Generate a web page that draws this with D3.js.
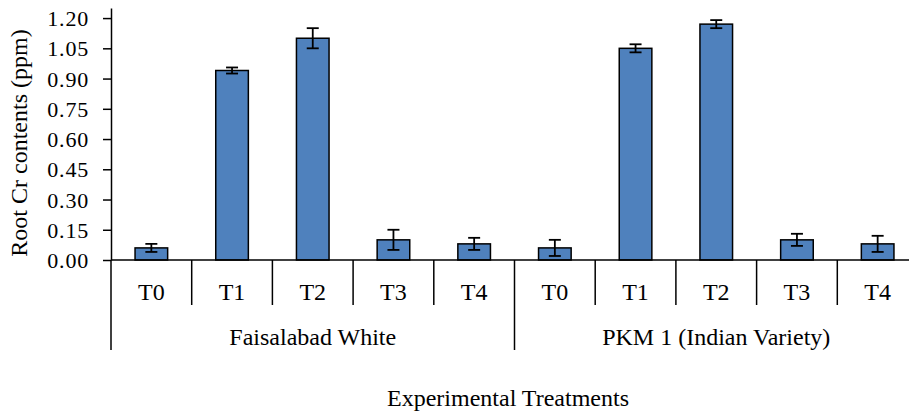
<!DOCTYPE html>
<html>
<head>
<meta charset="utf-8">
<script src="https://cdn.jsdelivr.net/npm/d3@7"></script>
<style>
  html, body { margin: 0; padding: 0; background: #fff; }
  svg { display: block; }
  text { font-family: "Liberation Serif", "Times New Roman", serif; fill: #000; }
</style>
</head>
<body>
<svg id="chart" width="909" height="416"></svg>
<script>
// root Cr (ppm) per variety and treatment
const varieties = ['Faisalabad White', 'PKM 1 (Indian Variety)'];
const treatments = ['T0', 'T1', 'T2', 'T3', 'T4'];
const fwMeans = [0.06, 0.94, 1.10, 0.10, 0.08];
const fwErrors = [0.02, 0.015, 0.05, 0.05, 0.03];
const pkmMeans = [0.06, 1.05, 1.17, 0.10, 0.08];
const pkmErrors = [0.04, 0.02, 0.02, 0.03, 0.04];
const yTickValues = [0, 0.15, 0.30, 0.45, 0.60, 0.75, 0.90, 1.05, 1.20];

const rows = [];
varieties.forEach((v, gi) => {
  const means = gi === 0 ? fwMeans : pkmMeans;
  const errs = gi === 0 ? fwErrors : pkmErrors;
  treatments.forEach((t, ti) => {
    rows.push({ key: `${gi}-${t}`, variety: v, treatment: t, mean: means[ti], err: errs[ti] });
  });
});

const svg = d3.select('#chart');
const plotLeft = 111, plotRight = 918, plotTop = 8, zeroY = 260;

const x = d3.scaleBand().domain(rows.map((d) => d.key)).range([plotLeft, plotRight]).padding(0);
const y = d3.scaleLinear().domain([0, 1.25]).range([zeroY, plotTop]);
const barW = x.bandwidth() * 0.404;

// bars
svg.append('g')
  .selectAll('rect')
  .data(rows)
  .join('rect')
  .attr('x', (d) => x(d.key) + (x.bandwidth() - barW) / 2)
  .attr('y', (d) => y(d.mean))
  .attr('width', barW)
  .attr('height', (d) => y(0) - y(d.mean))
  .attr('fill', '#4f81bd')
  .attr('stroke', '#000')
  .attr('stroke-width', 1.5);

// error bars
const eb = svg.append('g').attr('stroke', '#000').attr('stroke-width', 1.8);
const cx = (d) => x(d.key) + x.bandwidth() / 2;
eb.selectAll('line.v').data(rows).join('line').attr('class', 'v')
  .attr('x1', cx).attr('x2', cx)
  .attr('y1', (d) => y(d.mean + d.err)).attr('y2', (d) => y(d.mean - d.err));
[1, -1].forEach((s, k) => {
  eb.selectAll(`line.c${k}`).data(rows).join('line').attr('class', `c${k}`)
    .attr('x1', (d) => cx(d) - 6).attr('x2', (d) => cx(d) + 6)
    .attr('y1', (d) => y(d.mean + s * d.err)).attr('y2', (d) => y(d.mean + s * d.err));
});

// y axis
const yAxis = svg.append('g')
  .attr('transform', `translate(${plotLeft},0)`)
  .call(d3.axisLeft(y).tickValues(yTickValues).tickFormat(d3.format('.2f')).tickSize(8).tickSizeOuter(0));
yAxis.attr('font-family', null).attr('font-size', null);
yAxis.select('.domain').attr('stroke-width', 1.5);
yAxis.selectAll('.tick line').attr('stroke-width', 1.5);
yAxis.selectAll('.tick text')
  .attr('x', -22)
  .style('font-size', '22px')
  .style('letter-spacing', '0.8px')
  .attr('dy', '0.34em');

// x axis baseline
svg.append('line')
  .attr('x1', plotLeft).attr('x2', plotRight)
  .attr('y1', zeroY).attr('y2', zeroY)
  .attr('stroke', '#000').attr('stroke-width', 1.5);

// category separators: short between treatments, long at variety edges
const cuts = rows.map((d) => x(d.key)).concat([plotRight]);
svg.append('g')
  .selectAll('line')
  .data(cuts)
  .join('line')
  .attr('x1', (d) => d).attr('x2', (d) => d)
  .attr('y1', zeroY)
  .attr('y2', (d, i) => (i % treatments.length === 0 ? 350 : 305))
  .attr('stroke', '#000').attr('stroke-width', 1.5);

// treatment labels
svg.append('g')
  .selectAll('text')
  .data(rows)
  .join('text')
  .attr('x', cx)
  .attr('y', 300)
  .attr('text-anchor', 'middle')
  .style('font-size', '24px')
  .text((d) => d.treatment);

// variety labels
svg.append('g')
  .selectAll('text')
  .data(varieties)
  .join('text')
  .attr('x', (v, gi) => {
    const a = x(`${gi}-T0`);
    const b = x(`${gi}-T4`) + x.bandwidth();
    return (a + b) / 2;
  })
  .attr('y', 345)
  .attr('text-anchor', 'middle')
  .style('font-size', '24px')
  .text((v) => v);

// axis titles
svg.append('text')
  .attr('x', 508)
  .attr('y', 406)
  .attr('text-anchor', 'middle')
  .style('font-size', '24px')
  .text('Experimental Treatments');

svg.append('text')
  .attr('transform', 'translate(27,143) rotate(-90)')
  .attr('text-anchor', 'middle')
  .style('font-size', '24px')
  .text('Root Cr contents (ppm)');
</script>
</body>
</html>
